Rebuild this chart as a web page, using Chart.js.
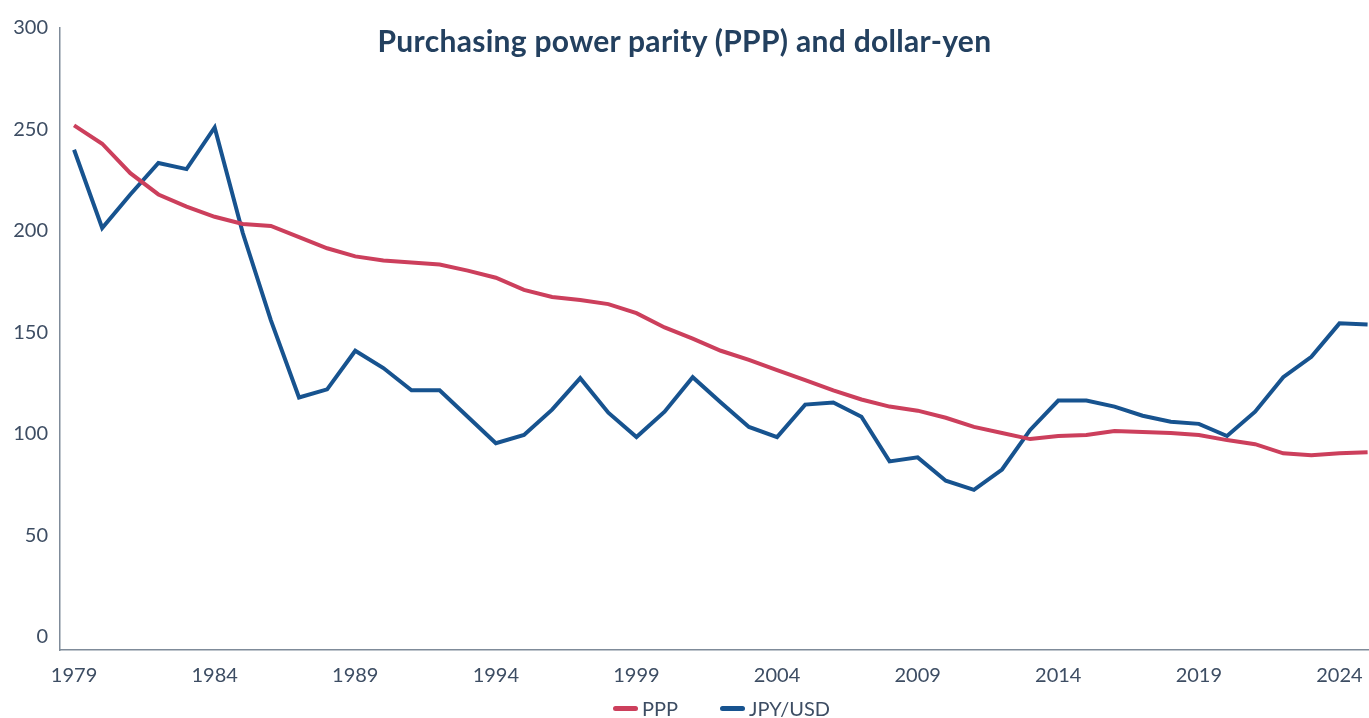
<!DOCTYPE html>
<html lang="en">

<head>
  <meta charset="UTF-8">
  <title>Purchasing power parity (PPP) and dollar-yen</title>
  <script src="https://cdn.jsdelivr.net/npm/chart.js"></script>
  <style>
    body { margin: 0; background: #fff; }
    .wrap { position: relative; width: 1369px; height: 718px; overflow: hidden; }
    #grafico { position: absolute; left: 0; top: 0; }
    #titulo {
      position: absolute; top: 22px; left: 0; width: 1369px; text-align: center;
      font: bold 30px Lato, sans-serif; letter-spacing: 0.3px; color: #23405f;
    }
    #legenda {
      position: absolute; top: 697px; left: 0; width: 1369px; padding-left: 74px; box-sizing: border-box;
      display: flex; justify-content: center; font: 20px Lato, sans-serif; color: #3d4d63; line-height: 22px;
    }
    .item { display: flex; align-items: center; margin: 0 21px; }
    .marca { width: 25px; height: 5px; border-radius: 3px; margin-right: 4px; }
  </style>
</head>

<body>
  <div class="wrap">
    <canvas id="grafico" width="1369" height="718"></canvas>
    <div id="titulo">Purchasing power parity (PPP) and dollar-yen</div>
    <div id="legenda"></div>
  </div>
</body>
<script>
  const anos = [1979, 1980, 1981, 1982, 1983, 1984, 1985, 1986, 1987, 1988,
    1989, 1990, 1991, 1992, 1993, 1994, 1995, 1996, 1997, 1998,
    1999, 2000, 2001, 2002, 2003, 2004, 2005, 2006, 2007, 2008,
    2009, 2010, 2011, 2012, 2013, 2014, 2015, 2016, 2017, 2018,
    2019, 2020, 2021, 2022, 2023, 2024, 2025];

  const ppp = [252, 243, 228.5, 218, 212, 207, 203.5, 202.5, 197, 191.5,
    187.5, 185.5, 184.5, 183.5, 180.5, 177, 171, 167.5, 166, 164,
    159.5, 152.5, 147, 141, 136.5, 131.5, 126.5, 121.5, 117, 113.5,
    111.5, 108, 103.5, 100.5, 97.5, 99, 99.5, 101.5, 101, 100.5,
    99.5, 97, 95, 90.5, 89.5, 90.5, 91];

  const jpyUsd = [240, 201.5, 218, 233.5, 230.5, 251, 199, 156, 118, 122,
    141, 132.5, 121.5, 121.5, 108.5, 95.5, 99.5, 112, 127.5, 110.5,
    98.5, 111, 128, 115.5, 103.5, 98.5, 114.5, 115.5, 108.5, 86.5,
    88.5, 77, 72.5, 82.5, 102, 116.5, 116.5, 113.5, 109, 106,
    105, 99, 111, 128, 138, 154.5, 154];

  const ticksX = [1979, 1984, 1989, 1994, 1999, 2004, 2009, 2014, 2019, 2024];
  const ticksY = [0, 50, 100, 150, 200, 250, 300];

  const corTexto = '#3d4d63';
  const corEixo = '#7f8b99';

  const ctx = document.getElementById('grafico').getContext('2d');

  const grafico = new Chart(ctx, {
    type: 'line',
    data: {
      datasets: [
        {
          label: 'PPP',
          data: anos.map((a, i) => ({ x: a, y: ppp[i] })),
          borderColor: '#cc3f5c',
          borderWidth: 4,
          pointRadius: 0,
          tension: 0
        },
        {
          label: 'JPY/USD',
          data: anos.map((a, i) => ({ x: a, y: jpyUsd[i] })),
          borderColor: '#17538f',
          borderWidth: 4,
          pointRadius: 0,
          tension: 0
        }
      ]
    },
    options: {
      responsive: false,
      animation: false,
      layout: { padding: { top: 28, right: 0, left: 0, bottom: 0 } },
      plugins: {
        legend: { display: false },
        tooltip: { enabled: false }
      },
      scales: {
        x: {
          type: 'linear',
          min: 1978.5,
          max: 2025.05,
          grid: { display: false, drawTicks: false },
          border: { display: true, color: corEixo, width: 1.5 },
          afterBuildTicks: axis => { axis.ticks = ticksX.map(v => ({ value: v })); },
          afterFit: axis => { axis.height = 68; axis.paddingRight = 0; },
          ticks: {
            padding: 14,
            color: corTexto,
            font: { family: 'Lato', size: 20 },
            maxRotation: 0,
            autoSkip: false,
            callback: v => String(v)
          }
        },
        y: {
          min: -6.4,
          max: 300,
          grid: { display: false, drawTicks: false },
          border: { display: true, color: corEixo, width: 1.5 },
          afterBuildTicks: axis => { axis.ticks = ticksY.map(v => ({ value: v })); },
          afterFit: axis => { axis.width = 60; },
          ticks: {
            padding: 12,
            color: corTexto,
            font: { family: 'Lato', size: 20 },
            callback: v => String(v)
          }
        }
      }
    }
  });

  // legenda em html, montada a partir dos datasets
  const legenda = document.getElementById('legenda');
  grafico.data.datasets.forEach(ds => {
    const item = document.createElement('div');
    item.className = 'item';
    const marca = document.createElement('span');
    marca.className = 'marca';
    marca.style.background = ds.borderColor;
    const texto = document.createElement('span');
    texto.textContent = ds.label;
    item.appendChild(marca);
    item.appendChild(texto);
    legenda.appendChild(item);
  });
</script>

</html>
